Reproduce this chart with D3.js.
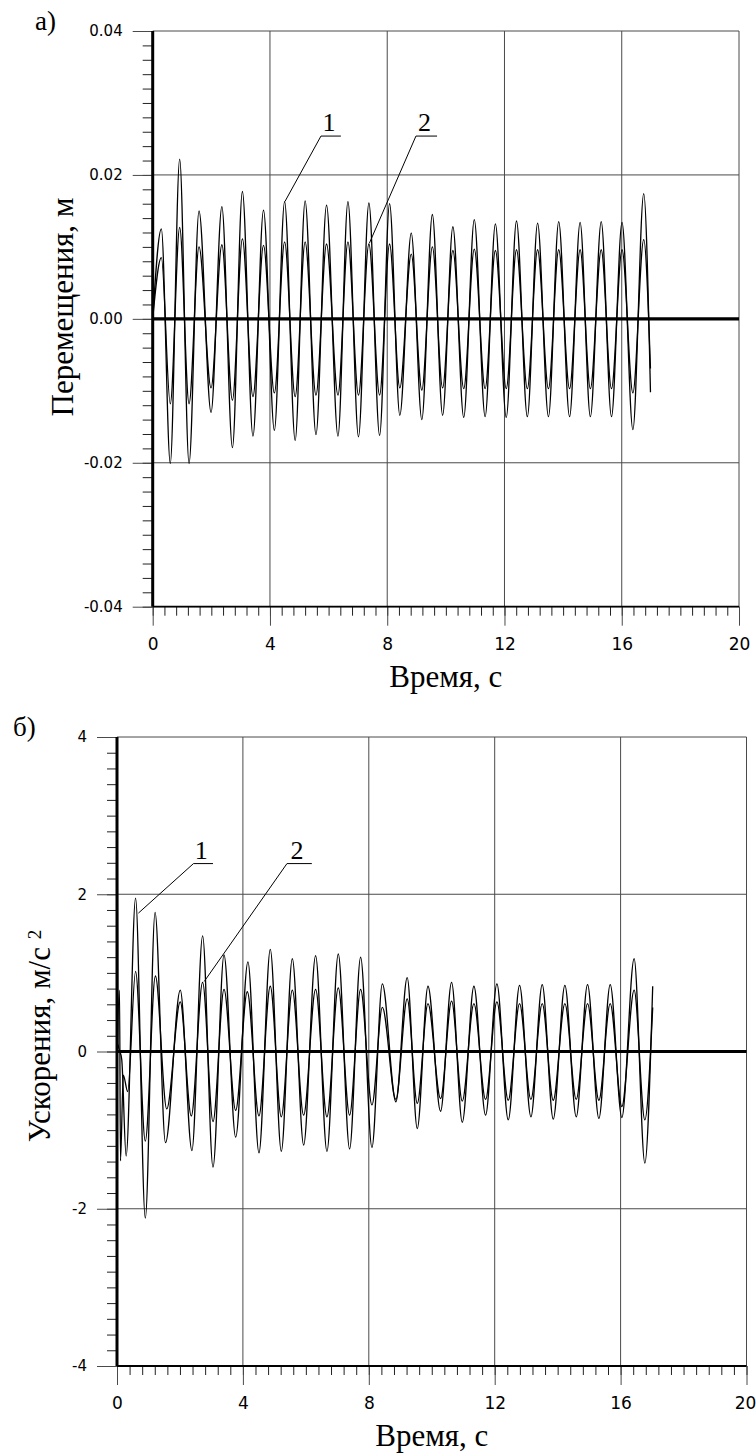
<!DOCTYPE html>
<html>
<head>
<meta charset="utf-8">
<script src="https://cdn.jsdelivr.net/npm/d3@7"></script>
<style>
body { margin: 0; background: #fff; }
svg { display: block; }
.tick text { font-family: "DejaVu Sans", sans-serif; fill: #000; }
.serif { font-family: "Liberation Serif", "Times New Roman", serif; fill: #000; }
</style>
</head>
<body>
<div id="chart"></div>
<script>
// tick values / labels
const timeTicks = [0, 4, 8, 12, 16, 20]
const timeTickLabels = ["0", "4", "8", "12", "16", "20"]
const dispTicks = [-0.04, -0.02, 0, 0.02, 0.04]
const dispTickLabels = ["-0.04", "-0.02", "0.00", "0.02", "0.04"]
const accTicks = [-4, -2, 0, 2, 4]
const accTickLabels = ["-4", "-2", "0", "2", "4"]

// a) displacements, read at the peaks and troughs (both curves share the times)
const dispTime = [0, 0.295, 0.60, 0.92, 1.24, 1.58, 1.99, 2.36, 2.72, 3.06, 3.42, 3.78, 4.15, 4.50, 4.86, 5.20, 5.57, 5.93, 6.32, 6.66,
  7.02, 7.375, 7.74, 8.08, 8.43, 8.82, 9.18, 9.54, 9.89, 10.24, 10.61, 10.97, 11.34, 11.69, 12.06, 12.41, 12.78, 13.13, 13.50, 13.85,
  14.22, 14.58, 14.93, 15.30, 15.65, 16.01, 16.38, 16.75, 16.98]
const disp1 = [0, 0.0125, -0.0201, 0.0222, -0.0201, 0.0150, -0.0130, 0.0156, -0.0179, 0.0177, -0.0163, 0.0151, -0.0155, 0.0163, -0.0169, 0.0164, -0.0161, 0.0158, -0.0163, 0.0163,
  -0.0164, 0.0161, -0.0162, 0.0160, -0.0134, 0.0119, -0.0140, 0.0145, -0.0134, 0.0128, -0.0137, 0.0138, -0.0136, 0.0132, -0.0137, 0.0136, -0.0136, 0.0133, -0.0136, 0.0135,
  -0.0136, 0.0134, -0.0136, 0.0135, -0.0136, 0.0134, -0.0154, 0.0174, -0.0102]
const disp2 = [0, 0.0085, -0.0118, 0.0127, -0.0118, 0.0100, -0.0096, 0.0103, -0.0113, 0.0111, -0.0108, 0.0102, -0.0103, 0.0107, -0.0108, 0.0107, -0.0106, 0.0104, -0.0106, 0.0107,
  -0.0106, 0.0104, -0.0106, 0.0104, -0.0096, 0.0090, -0.0099, 0.0100, -0.0096, 0.0095, -0.0097, 0.0097, -0.0097, 0.0095, -0.0097, 0.0096, -0.0097, 0.0096, -0.0097, 0.0096,
  -0.0097, 0.0096, -0.0097, 0.0096, -0.0097, 0.0096, -0.0103, 0.0110, -0.0069]

// b) accelerations
const acc1Time = [0, 0.012, 0.03, 0.15, 0.29, 0.59, 0.90, 1.21, 1.54, 2.01, 2.38, 2.72, 3.05, 3.40, 3.77, 4.16, 4.51, 4.87, 5.22, 5.57,
  5.93, 6.31, 6.67, 7.03, 7.39, 7.74, 8.10, 8.43, 8.86, 9.22, 9.54, 9.88, 10.28, 10.63, 10.97, 11.34, 11.71, 12.07, 12.43, 12.79,
  13.15, 13.51, 13.86, 14.23, 14.59, 14.95, 15.31, 15.67, 16.04, 16.43, 16.77, 17.02]
const acc1 = [0, 2.6, 0.1, -0.1, -1.33, 1.95, -2.12, 1.77, -1.16, 0.78, -1.26, 1.47, -1.47, 1.23, -1.09, 1.14, -1.29, 1.30, -1.27, 1.18,
  -1.19, 1.22, -1.27, 1.24, -1.24, 1.20, -1.22, 0.86, -0.64, 0.94, -0.98, 0.83, -0.76, 0.88, -0.90, 0.83, -0.81, 0.86, -0.87, 0.84,
  -0.83, 0.85, -0.86, 0.84, -0.83, 0.85, -0.85, 0.85, -0.84, 1.18, -1.42, 0.83]
const acc2Time = [0, 0.08, 0.11, 0.2, 0.34, 0.59, 0.90, 1.22, 1.58, 2.01, 2.36, 2.72, 3.05, 3.40, 3.77, 4.14, 4.51, 4.87, 5.22, 5.57,
  5.93, 6.31, 6.67, 7.03, 7.39, 7.74, 8.10, 8.43, 8.86, 9.22, 9.54, 9.88, 10.28, 10.63, 10.97, 11.34, 11.71, 12.07, 12.43, 12.79,
  13.15, 13.51, 13.86, 14.23, 14.59, 14.95, 15.31, 15.67, 16.04, 16.43, 16.77, 17.02]
const acc2 = [0, 0.78, -1.39, -0.3, -0.51, 1.02, -1.14, 0.96, -0.73, 0.63, -0.82, 0.88, -0.89, 0.79, -0.75, 0.76, -0.82, 0.83, -0.83, 0.78,
  -0.81, 0.79, -0.83, 0.81, -0.81, 0.79, -0.68, 0.56, -0.61, 0.67, -0.66, 0.61, -0.60, 0.64, -0.63, 0.61, -0.61, 0.63, -0.62, 0.61,
  -0.61, 0.61, -0.62, 0.61, -0.61, 0.61, -0.62, 0.61, -0.70, 0.78, -0.87, 0.56]

const WIDTH = 756, HEIGHT = 1456
const svg = d3.select("#chart").append("svg").attr("width", WIDTH).attr("height", HEIGHT)
svg.append("rect").attr("width", WIDTH).attr("height", HEIGHT).attr("fill", "#fff")

function drawPanel(p) {
    const x = d3.scaleLinear().domain([0, 20]).range([p.left, p.right])
    const y = d3.scaleLinear().domain([p.yTicks[0], p.yTicks[p.yTicks.length - 1]]).range([p.bottom, p.top])
    const g = svg.append("g")

    // grid
    g.selectAll(".vgrid").data(timeTicks.slice(1)).enter().append("line")
        .attr("x1", d => x(d)).attr("x2", d => x(d)).attr("y1", p.top).attr("y2", p.bottom)
        .attr("stroke", "#4a4a4a").attr("stroke-width", 1)
    g.selectAll(".hgrid").data(p.yTicks.filter(d => d != 0)).enter().append("line")
        .attr("x1", p.left).attr("x2", p.right).attr("y1", d => y(d)).attr("y2", d => y(d))
        .attr("stroke", "#4a4a4a").attr("stroke-width", 1)

    // y axis ticks
    const yMinor = d3.range(0, 41).map(i => p.yTicks[0] + i * p.yMinorStep)
    g.append("g").attr("transform", "translate(" + p.left + ",0)")
        .call(d3.axisLeft(y).tickValues(yMinor).tickSize(10).tickFormat(""))
        .call(a => a.select(".domain").remove())
        .selectAll("line").attr("stroke", "#222")
    g.append("g").attr("transform", "translate(" + p.left + ",0)")
        .call(d3.axisLeft(y).tickValues(p.yTicks).tickSize(20).tickPadding(10).tickFormat((d, i) => p.yLabels[i]))
        .call(a => a.select(".domain").remove())
        .call(a => a.selectAll("line").attr("stroke", "#4a4a4a"))
        .selectAll("text").style("font-size", "15px")

    // x axis ticks
    const xMinor = d3.range(0, 51).map(i => i * 0.4)
    g.append("g").attr("transform", "translate(0," + p.bottom + ")")
        .call(d3.axisBottom(x).tickValues(xMinor).tickSize(9).tickFormat(""))
        .call(a => a.select(".domain").remove())
        .selectAll("line").attr("stroke", "#222")
    g.append("g").attr("transform", "translate(0," + p.bottom + ")")
        .call(d3.axisBottom(x).tickValues(timeTicks).tickSize(19).tickPadding(12).tickFormat((d, i) => timeTickLabels[i]))
        .call(a => a.select(".domain").remove())
        .call(a => a.selectAll("line").attr("stroke", "#4a4a4a"))
        .selectAll("text").style("font-size", "17px")
        .attr("dx", d => Math.min(0, WIDTH - 11 - x(d)))

    // axes lines
    g.append("line").attr("x1", p.left).attr("x2", p.right).attr("y1", p.bottom).attr("y2", p.bottom)
        .attr("stroke", "#000").attr("stroke-width", 1.8)
    g.append("line").attr("x1", p.left).attr("x2", p.right).attr("y1", y(0)).attr("y2", y(0))
        .attr("stroke", "#000").attr("stroke-width", 3.2)

    // curves
    const line = d3.line().x(d => x(d[0])).y(d => y(d[1])).curve(d3.curveMonotoneX)
    p.series.forEach(s => {
        g.append("path").datum(s.t.map((t, i) => [t, s.v[i]]))
            .attr("d", line).attr("fill", "none").attr("stroke", "#000").attr("stroke-width", 1.3)
    })

    g.append("line").attr("x1", p.left).attr("x2", p.left).attr("y1", p.top).attr("y2", p.bottom)
        .attr("stroke", "#000").attr("stroke-width", 3)

    // leader labels
    p.notes.forEach(n => {
        const sx = x(n.t), sy = y(n.v), ex = x(n.t + n.len)
        g.append("polyline").attr("points", [[x(n.et), y(n.ev)], [sx, sy], [ex, sy]].join(" "))
            .attr("fill", "none").attr("stroke", "#000").attr("stroke-width", 1)
        g.append("text").attr("class", "serif").attr("x", sx + (ex - sx) * 0.4).attr("y", sy - 5)
            .attr("text-anchor", "middle").style("font-size", "26px").text(n.text)
    })

    // titles
    svg.append("text").attr("class", "serif").attr("x", p.tag[0]).attr("y", p.tag[1])
        .style("font-size", "27px").text(p.tagText)
    svg.append("text").attr("class", "serif").attr("x", (p.left + p.right) / 2).attr("y", p.bottom + 80)
        .attr("text-anchor", "middle").style("font-size", "31px").text("Время, с")
    const yt = svg.append("text").attr("class", "serif")
        .attr("transform", "translate(" + p.yTitle[0] + "," + p.yTitle[1] + ") rotate(-90)")
        .attr("text-anchor", "middle").style("font-size", "31px").text(p.yTitleText)
    if (p.yTitleSup) {
        yt.append("tspan").attr("dy", "-0.5em").style("font-size", "19px").text(p.yTitleSup)
    }
}

drawPanel({
    left: 152.7, right: 739, top: 31, bottom: 606.7,
    yTicks: dispTicks, yLabels: dispTickLabels, yMinorStep: 0.002,
    series: [{t: dispTime, v: disp1}, {t: dispTime, v: disp2}],
    notes: [
        {text: "1", t: 5.74, v: 0.0254, len: 0.68, et: 4.51, ev: 0.0163},
        {text: "2", t: 8.98, v: 0.0254, len: 0.72, et: 7.39, ev: 0.0105}
    ],
    tag: [35, 30], tagText: "а)",
    yTitle: [73, 307], yTitleText: "Перемещения, м"
})

drawPanel({
    left: 117, right: 746.5, top: 737, bottom: 1366,
    yTicks: accTicks, yLabels: accTickLabels, yMinorStep: 0.2,
    series: [{t: acc1Time, v: acc1}, {t: acc2Time, v: acc2}],
    notes: [
        {text: "1", t: 2.43, v: 2.39, len: 0.62, et: 0.68, ev: 1.76},
        {text: "2", t: 5.40, v: 2.39, len: 0.79, et: 2.77, ev: 0.89}
    ],
    tag: [13, 736], tagText: "б)",
    yTitle: [50, 1036], yTitleText: "Ускорения, м/с ", yTitleSup: "2"
})
</script>
</body>
</html>
